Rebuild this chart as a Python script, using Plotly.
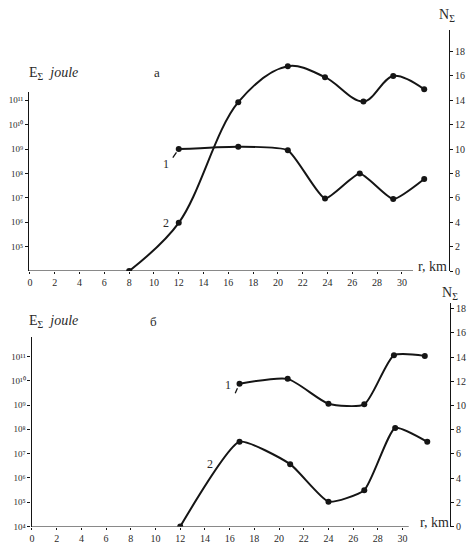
import plotly.graph_objects as go

# ---------------- data ----------------
# panel "а"
r_a_1 = [12.0, 16.8, 20.8, 23.8, 26.6, 29.3, 31.8]
n_a_1 = [10.0, 10.2, 9.9, 5.95, 8.0, 5.9, 7.55]
r_a_2 = [8.0, 12.0, 16.8, 20.8, 23.8, 26.9, 29.3, 31.8]
n_a_2 = [0.0, 3.95, 13.85, 16.8, 15.9, 13.9, 16.0, 14.9]
# panel "б"
r_b_1 = [16.8, 20.7, 24.0, 26.9, 29.3, 31.8]
n_b_1 = [11.8, 12.2, 10.15, 10.1, 14.15, 14.1]
r_b_2 = [12.0, 16.8, 20.9, 24.0, 26.9, 29.4, 32.0]
n_b_2 = [0.0, 7.0, 5.15, 2.05, 3.0, 8.15, 7.0]

x_ticks = list(range(0, 31, 2))
n_ticks = list(range(0, 19, 2))
e_ticks_a = [2, 4, 6, 8, 10, 12, 14]
e_text_a = ["10⁵", "10⁶", "10⁷", "10⁸", "10⁹", "10¹⁰", "10¹¹"]
e_ticks_b = [0, 2, 4, 6, 8, 10, 12, 14]
e_text_b = ["10⁴", "10⁵", "10⁶", "10⁷", "10⁸", "10⁹", "10¹⁰", "10¹¹"]

W, H = 471, 543
def px(v):
    return v / W
def py(v):
    return 1 - v / H

INK = "#151515"
TXT = "#2a2a2a"
TF = dict(family="Liberation Serif", size=10, color=TXT)
TFL = dict(family="Liberation Serif", size=9, color=TXT)

fig = go.Figure()

def curve(x, y, xa, ya, smooth):
    fig.add_trace(go.Scatter(
        x=x, y=y, xaxis=xa, yaxis=ya, mode="lines+markers",
        line=dict(color=INK, width=2, shape="spline", smoothing=smooth),
        marker=dict(color=INK, size=6), showlegend=False, hoverinfo="skip"))

curve(r_a_1, n_a_1, "x", "y", 0.5)
curve(r_a_2, n_a_2, "x", "y", 1.0)
curve(r_b_1, n_b_1, "x2", "y3", 0.6)
curve(r_b_2, n_b_2, "x2", "y3", 0.5)

# dummy traces so the left (energy) axes are drawn
fig.add_trace(go.Scatter(x=[r_a_2[0]], y=[n_a_2[0]], xaxis="x", yaxis="y2",
                         mode="markers", marker=dict(opacity=0), showlegend=False, hoverinfo="skip"))
fig.add_trace(go.Scatter(x=[r_b_2[0]], y=[n_b_2[0]], xaxis="x2", yaxis="y4",
                         mode="markers", marker=dict(opacity=0), showlegend=False, hoverinfo="skip"))

xcommon = dict(tickmode="array", tickvals=x_ticks, ticktext=[str(v) for v in x_ticks],
               showline=False, showgrid=False, zeroline=False, ticks="outside",
               ticklen=2, tickcolor=INK, tickfont=TF, automargin=False)
ycommon = dict(showline=True, linecolor=INK, linewidth=1.2, showgrid=False, zeroline=False,
               ticks="outside", ticklen=3, tickcolor=INK, automargin=False)

fig.update_layout(
    width=W, height=H, margin=dict(l=0, r=0, t=0, b=0, autoexpand=False),
    paper_bgcolor="white", plot_bgcolor="rgba(0,0,0,0)", showlegend=False,
    xaxis=dict(domain=[px(29), px(449)], range=[-0.08, 33.8], anchor="y", **xcommon),
    yaxis=dict(domain=[py(271), py(30)], range=[0, 19.77], anchor="x", side="right",
               tickvals=n_ticks, ticktext=[str(v) for v in n_ticks], tickfont=TF, **ycommon),
    yaxis2=dict(domain=[py(271), py(92)], range=[0, 14.68], anchor="x", side="left",
                tickvals=e_ticks_a, ticktext=e_text_a, tickfont=TFL, **ycommon),
    xaxis2=dict(domain=[px(31.5), px(450)], range=[-0.04, 33.84], anchor="y3", **xcommon),
    yaxis3=dict(domain=[py(526.5), py(303)], range=[0, 18.47], anchor="x2", side="right",
                tickvals=n_ticks, ticktext=[str(v) for v in n_ticks], tickfont=TF, **ycommon),
    yaxis4=dict(domain=[py(526.5), py(337)], range=[0, 15.6], anchor="x2", side="left",
                tickvals=e_ticks_b, ticktext=e_text_b, tickfont=TFL, **ycommon),
)

# x axis lines (stop before the "r, km" label)
fig.add_shape(type="line", xref="x", yref="y", x0=-0.08, x1=30.9, y0=0, y1=0,
              line=dict(color=INK, width=1.2))
fig.add_shape(type="line", xref="x2", yref="y3", x0=-0.04, x1=30.5, y0=0, y1=0,
              line=dict(color=INK, width=1.2))

ann = []
def txt(x, y, s, size=14, xanchor="center"):
    ann.append(dict(x=px(x), y=py(y), xref="paper", yref="paper", text=s, showarrow=False,
                    xanchor=xanchor, yanchor="middle",
                    font=dict(family="Liberation Serif", size=size, color=TXT)))

txt(27, 73, "E<sub>Σ</sub>  <i>joule</i>", 14, "left")
txt(157, 72, "а", 13)
txt(27, 321, "E<sub>Σ</sub>  <i>joule</i>", 14, "left")
txt(153, 321, "б", 13)
txt(447, 15, "N<sub>Σ</sub>", 14)
txt(450, 293, "N<sub>Σ</sub>", 14)
txt(432, 266, "r, km", 14)
txt(434, 522, "r, km", 14)

# curve labels
LBL = dict(family="Liberation Serif", size=12, color=TXT)
ann.append(dict(x=r_a_1[0], y=n_a_1[0], xref="x", yref="y", text="1", showarrow=False,
                xshift=-13, yshift=-15, font=LBL))
ann.append(dict(x=r_a_1[0], y=n_a_1[0], xref="x", yref="y", text="", showarrow=True,
                arrowhead=0, arrowwidth=1.3, arrowcolor=INK, ax=-7, ay=10, standoff=4))
ann.append(dict(x=r_a_2[1], y=n_a_2[1], xref="x", yref="y", text="2", showarrow=False,
                xshift=-13, yshift=0, font=LBL))
ann.append(dict(x=r_b_1[0], y=n_b_1[0], xref="x2", yref="y3", text="1", showarrow=False,
                xshift=-12, yshift=-1, font=LBL))
ann.append(dict(x=r_b_1[0], y=n_b_1[0], xref="x2", yref="y3", text="", showarrow=True,
                arrowhead=0, arrowwidth=1.3, arrowcolor=INK, ax=-5, ay=11, standoff=5))
ann.append(dict(x=14.4, y=5.2, xref="x2", yref="y3", text="2", showarrow=False, font=LBL))

fig.update_layout(annotations=ann)
fig.write_html("out.html", config={"displayModeBar": False},
               post_script="document.body.style.margin='0';document.body.style.overflow='hidden';")
